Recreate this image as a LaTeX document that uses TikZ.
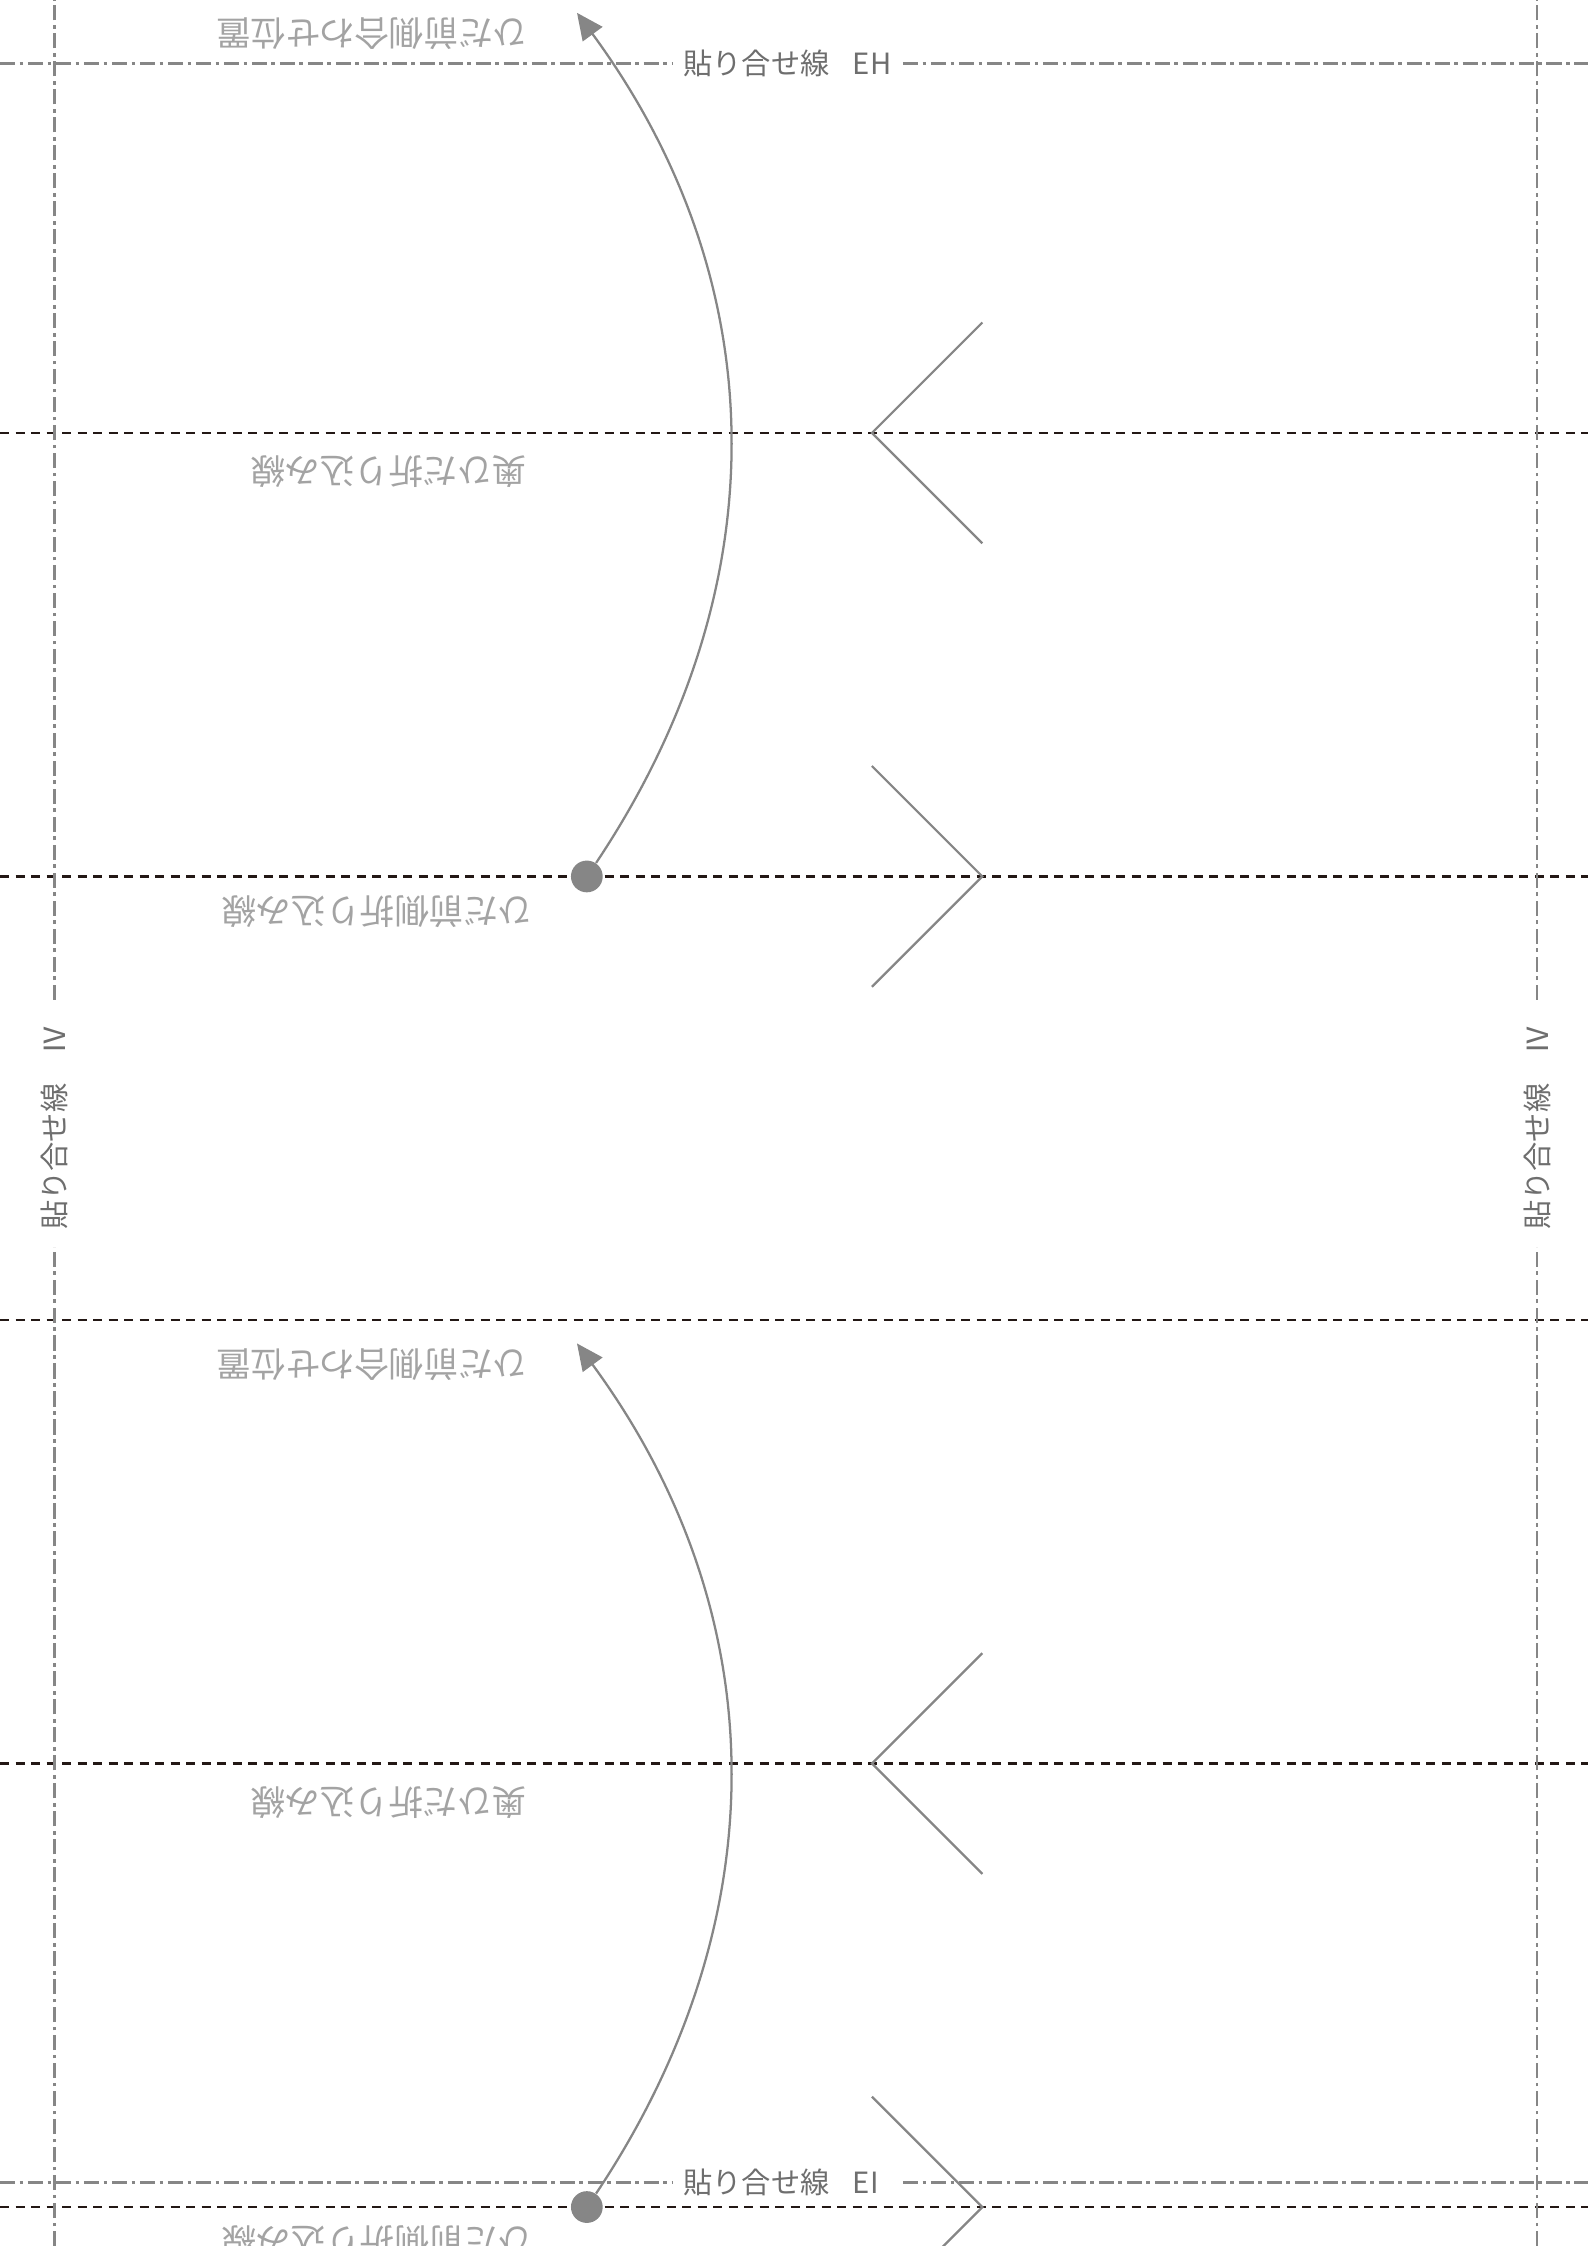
\documentclass[tikz,border=0pt]{standalone}
\usepackage{fontspec}
\setmainfont{Noto Sans CJK JP}
\usetikzlibrary{arrows.meta}
\definecolor{foldblack}{HTML}{231815}
\definecolor{guidegray}{HTML}{868686}
\definecolor{notegray}{HTML}{A3A3A3}
\definecolor{pastegray}{HTML}{6E6E6E}
\tikzset{
  foldline/.style={foldblack, line width=0.3mm, dash pattern=on 1.2mm off 0.85mm},
  pasteline/.style={guidegray, line width=0.28mm, dash pattern=on 2mm off 0.6mm on 0.5mm off 0.6mm},
  guide/.style={guidegray, line width=0.3mm},
  note/.style={notegray, rotate=180, inner sep=0pt, font=\fontsize{13}{13}\selectfont},
  pastelabel/.style={pastegray, inner sep=0pt, anchor=west, font=\fontsize{11}{11}\selectfont},
  pin/.style={circle, fill=guidegray, minimum size=4.2mm, inner sep=0pt},
}
\begin{document}
\begin{tikzpicture}[x=1mm, y=1mm, >={Triangle[length=3.5mm,width=3.2mm]}]
\useasboundingbox (0,0) rectangle (210,297);
\clip (0,0) rectangle (210,297);

% fold lines
\foreach \y in {5.15,63.8,122.45,181.1,239.75}
{
    \draw[foldline] (0,\y)--(210,\y);
}

% paste lines
\draw[pasteline] (0,288.6)--(88.9,288.6) (119.4,288.6)--(210,288.6);
\draw[pasteline] (0,8.4)--(88.9,8.4) (119.4,8.4)--(210,8.4);
\draw[pasteline] (7.2,0)--(7.2,132.1) (7.2,164.8)--(7.2,297);
\draw[pasteline] (203.3,0)--(203.3,132.1) (203.3,164.8)--(203.3,297);
\node[pastelabel] (eh) at (90.3,288.6) {貼り合せ線\hspace{0.8em}EH};
\node[pastelabel] (ei) at (90.3,8.4) {貼り合せ線\hspace{0.8em}EI};
\node[pastelabel, rotate=90] (ivleft) at (7.2,134.3) {貼り合せ線\hspace{1em}Ⅳ};
\node[pastelabel, rotate=90] (ivright) at (203.3,134.3) {貼り合せ線\hspace{1em}Ⅳ};

% pleats
\foreach \dy [count=\i] in {0,-175.95}
{
\begin{scope}[yshift=\dy mm]
    \node[pin] (dot\i) at (77.6,181.1) {};
    \coordinate (tip\i) at (76.3,295.3);
    \draw[guide,->] (dot\i) to[bend right=35] (tip\i);
    \draw[guide] (129.9,254.35)--(115.3,239.75)--(129.9,225.15);
    \draw[guide] (115.3,195.7)--(129.9,181.1)--(115.3,166.5);
    \node[note] (match\i) at (49.2,292.5) {ひだ前側合わせ位置};
    \node[note] (back\i) at (51.4,234.6) {奥ひだ折り込み線};
    \node[note] (front\i) at (49.9,176.5) {ひだ前側折り込み線};
\end{scope}
}

\end{tikzpicture}
\end{document}
